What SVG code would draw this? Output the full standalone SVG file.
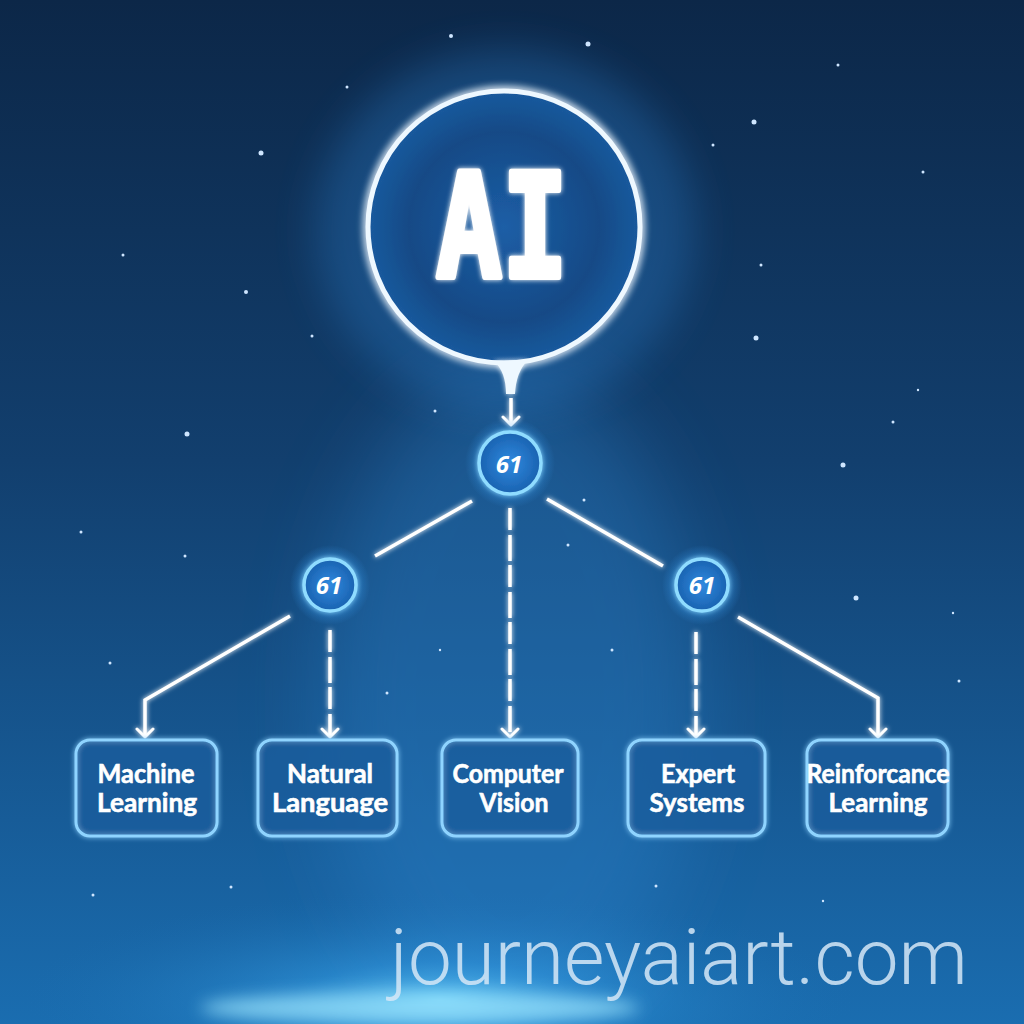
<svg xmlns="http://www.w3.org/2000/svg" width="1024" height="1024" viewBox="0 0 1024 1024">
  <defs>
    <linearGradient id="bg" x1="0" y1="0" x2="0" y2="1">
      <stop offset="0" stop-color="#0c2748"/>
      <stop offset="0.45" stop-color="#123f6e"/>
      <stop offset="0.8" stop-color="#175c98"/>
      <stop offset="1" stop-color="#1a6db0"/>
    </linearGradient>
    <radialGradient id="bottomGlow" cx="0.5" cy="0.5" r="0.5">
      <stop offset="0" stop-color="#6fd6ff" stop-opacity="0.8"/>
      <stop offset="0.35" stop-color="#3aa8f0" stop-opacity="0.4"/>
      <stop offset="1" stop-color="#1a6db0" stop-opacity="0"/>
    </radialGradient>
    <radialGradient id="halo" cx="0.5" cy="0.5" r="0.5">
      <stop offset="0.55" stop-color="#3a9cf0" stop-opacity="0.55"/>
      <stop offset="1" stop-color="#3a9cf0" stop-opacity="0"/>
    </radialGradient>
    <radialGradient id="aiFill" cx="0.5" cy="0.5" r="0.5">
      <stop offset="0" stop-color="#1c5ea6"/>
      <stop offset="0.7" stop-color="#144a86"/>
      <stop offset="1" stop-color="#1a5a9e"/>
    </radialGradient>
    <radialGradient id="hubFill" cx="0.5" cy="0.5" r="0.5">
      <stop offset="0" stop-color="#2f8ae0"/>
      <stop offset="1" stop-color="#1a62b0"/>
    </radialGradient>
    <filter id="glow" x="-50%" y="-50%" width="200%" height="200%">
      <feGaussianBlur in="SourceGraphic" stdDeviation="4" result="b"/>
      <feMerge><feMergeNode in="b"/><feMergeNode in="b"/><feMergeNode in="SourceGraphic"/></feMerge>
    </filter>
    <filter id="softglow" x="-20%" y="-20%" width="140%" height="140%">
      <feGaussianBlur in="SourceGraphic" stdDeviation="2.5" result="b"/>
      <feMerge><feMergeNode in="b"/><feMergeNode in="SourceGraphic"/></feMerge>
    </filter>
    <filter id="blur20" x="-50%" y="-50%" width="200%" height="200%">
      <feGaussianBlur stdDeviation="20"/>
    </filter>
    <filter id="blur40" x="-50%" y="-50%" width="200%" height="200%">
      <feGaussianBlur stdDeviation="40"/>
    </filter>
    <filter id="blur8" x="-50%" y="-50%" width="200%" height="200%">
      <feGaussianBlur stdDeviation="8"/>
    </filter>
    <marker id="arr" viewBox="0 0 20 20" refX="18" refY="10" markerWidth="20" markerHeight="20" markerUnits="userSpaceOnUse" orient="auto">
      <path d="M10 2 L18 10 L10 18" fill="none" stroke="#ffffff" stroke-width="3" stroke-linecap="round" stroke-linejoin="round"/>
    </marker>
    <style>
      .box { fill: #1b5c9c; fill-opacity: 0.55; stroke: #8fd4ff; stroke-width: 3; }
      .lbl { font-family: Lato, "Open Sans", "Liberation Sans", sans-serif; font-weight: 700; font-size: 26px; fill: #ffffff; stroke: #ffffff; stroke-width: 0.6; text-anchor: middle; }
      .hub { fill: url(#hubFill); stroke: #8fdcff; stroke-width: 3.5; }
      .num { font-family: "Open Sans", "Liberation Sans", sans-serif; font-weight: 700; font-style: italic; font-size: 24px; fill: #ffffff; text-anchor: middle; }
      .conn { fill: none; stroke: #ffffff; stroke-width: 3.5; stroke-linecap: butt; }
      .dash { stroke-dasharray: 22 5 26 4; }
      .star { fill: #cfe6ff; }
    </style>
  </defs>

  <!-- background -->
  <rect x="0" y="0" width="1024" height="1024" fill="url(#bg)"/>
  <ellipse cx="510" cy="700" rx="190" ry="330" fill="#2f86d0" opacity="0.35" filter="url(#blur40)"/>
  <ellipse cx="440" cy="1000" rx="420" ry="110" fill="url(#bottomGlow)"/>
  <ellipse cx="420" cy="1008" rx="220" ry="16" fill="#9fe8ff" opacity="0.7" filter="url(#blur8)"/>
  <ellipse cx="505" cy="230" rx="190" ry="180" fill="#2e86d8" opacity="0.3" filter="url(#blur20)"/>

  <!-- stars -->
  <g id="stars">
    <circle class="star" cx="451" cy="36" r="2"/>
    <circle class="star" cx="588" cy="44" r="2.5"/>
    <circle class="star" cx="838" cy="65" r="1.5"/>
    <circle class="star" cx="347" cy="87" r="1.5"/>
    <circle class="star" cx="754" cy="122" r="2.5"/>
    <circle class="star" cx="261" cy="153" r="2.5"/>
    <circle class="star" cx="713" cy="145" r="1.5"/>
    <circle class="star" cx="923" cy="172" r="1.5"/>
    <circle class="star" cx="123" cy="255" r="1.5"/>
    <circle class="star" cx="761" cy="265" r="1.5"/>
    <circle class="star" cx="246" cy="292" r="2"/>
    <circle class="star" cx="756" cy="338" r="2.5"/>
    <circle class="star" cx="312" cy="336" r="1.5"/>
    <circle class="star" cx="187" cy="434" r="2.5"/>
    <circle class="star" cx="435" cy="411" r="1.5"/>
    <circle class="star" cx="843" cy="465" r="2.5"/>
    <circle class="star" cx="893" cy="422" r="1.5"/>
    <circle class="star" cx="918" cy="390" r="1.2"/>
    <circle class="star" cx="81" cy="532" r="1.5"/>
    <circle class="star" cx="185" cy="556" r="1.5"/>
    <circle class="star" cx="568" cy="545" r="1.5"/>
    <circle class="star" cx="856" cy="598" r="2.5"/>
    <circle class="star" cx="612" cy="650" r="1.5"/>
    <circle class="star" cx="387" cy="693" r="1.5"/>
    <circle class="star" cx="110" cy="663" r="1.5"/>
    <circle class="star" cx="959" cy="681" r="1.5"/>
    <circle class="star" cx="93" cy="895" r="1.5"/>
    <circle class="star" cx="231" cy="887" r="1.5"/>
    <circle class="star" cx="656" cy="886" r="1.5"/>
    <circle class="star" cx="823" cy="901" r="1.2"/>
    <circle class="star" cx="953" cy="613" r="1.2"/>
    <circle class="star" cx="440" cy="650" r="1.2"/>
    <circle class="star" cx="584" cy="500" r="1.5"/>
  </g>

  <!-- connectors -->
  <g id="connectors" filter="url(#softglow)">
    <line class="conn" x1="511" y1="398" x2="511" y2="425" marker-end="url(#arr)"/>
    <line class="conn" x1="472" y1="501" x2="375" y2="556"/>
    <line class="conn" x1="547" y1="499" x2="663" y2="566"/>
    <line class="conn dash" x1="510" y1="508" x2="510" y2="737" marker-end="url(#arr)"/>
    <polyline class="conn" points="290,616 145,700 145,737" marker-end="url(#arr)"/>
    <line class="conn dash" x1="330" y1="630" x2="330" y2="737" marker-end="url(#arr)"/>
    <line class="conn dash" x1="696" y1="632" x2="696" y2="737" marker-end="url(#arr)"/>
    <polyline class="conn" points="738,617 878,698 878,737" marker-end="url(#arr)"/>
  </g>

  <!-- AI node -->
  <g id="node-ai">
    <circle cx="504" cy="227" r="136" fill="url(#aiFill)" stroke="#eef8ff" stroke-width="5" filter="url(#glow)"/>
    <path d="M494 361 Q506 372 506 394 L515 394 Q516 372 528 360 Z" fill="#eef8ff" filter="url(#softglow)"/>
    <text x="502" y="277" font-family="'DejaVu Sans Mono', 'Liberation Mono', monospace" font-weight="700" font-size="144" fill="#ffffff" stroke="#ffffff" stroke-width="6" stroke-linejoin="round" textLength="132" lengthAdjust="spacingAndGlyphs" text-anchor="middle" filter="url(#softglow)">AI</text>
  </g>

  <!-- hubs -->
  <g id="hub-center">
    <circle cx="510" cy="463" r="45" fill="url(#halo)"/>
    <circle class="hub" cx="510" cy="463" r="31" filter="url(#softglow)"/>
    <text class="num" x="509" y="473">61</text>
  </g>
  <g id="hub-left">
    <circle cx="330" cy="585" r="40" fill="url(#halo)"/>
    <circle class="hub" cx="330" cy="585" r="26" filter="url(#softglow)"/>
    <text class="num" x="329" y="594">61</text>
  </g>
  <g id="hub-right">
    <circle cx="702" cy="585" r="40" fill="url(#halo)"/>
    <circle class="hub" cx="702" cy="585" r="26" filter="url(#softglow)"/>
    <text class="num" x="702" y="594">61</text>
  </g>

  <!-- leaf boxes -->
  <g id="node-ml">
    <rect class="box" x="76" y="740" width="141" height="96" rx="14" filter="url(#softglow)"/>
    <text class="lbl" x="146" y="783" textLength="97" lengthAdjust="spacingAndGlyphs">Machine</text>
    <text class="lbl" x="147" y="812" textLength="100" lengthAdjust="spacingAndGlyphs">Learning</text>
  </g>
  <g id="node-nl">
    <rect class="box" x="258" y="740" width="139" height="96" rx="14" filter="url(#softglow)"/>
    <text class="lbl" x="330" y="783" textLength="86" lengthAdjust="spacingAndGlyphs">Natural</text>
    <text class="lbl" x="330" y="812" textLength="116" lengthAdjust="spacingAndGlyphs">Language</text>
  </g>
  <g id="node-cv">
    <rect class="box" x="442" y="740" width="136" height="96" rx="14" filter="url(#softglow)"/>
    <text class="lbl" x="508" y="783" textLength="111" lengthAdjust="spacingAndGlyphs">Computer</text>
    <text class="lbl" x="514" y="812" textLength="69" lengthAdjust="spacingAndGlyphs">Vision</text>
  </g>
  <g id="node-es">
    <rect class="box" x="628" y="740" width="137" height="96" rx="14" filter="url(#softglow)"/>
    <text class="lbl" x="698" y="783" textLength="74" lengthAdjust="spacingAndGlyphs">Expert</text>
    <text class="lbl" x="697" y="812" textLength="95" lengthAdjust="spacingAndGlyphs">Systems</text>
  </g>
  <g id="node-rl">
    <rect class="box" x="807" y="740" width="141" height="96" rx="14" filter="url(#softglow)"/>
    <text class="lbl" x="878" y="783" textLength="143" lengthAdjust="spacingAndGlyphs">Reinforcance</text>
    <text class="lbl" x="878" y="812" textLength="99" lengthAdjust="spacingAndGlyphs">Learning</text>
  </g>

  <!-- watermark -->
  <text x="390" y="984" font-family="Roboto, 'Liberation Sans', sans-serif" font-weight="300" font-size="78" fill="#d6e8f7" fill-opacity="0.85" textLength="578" lengthAdjust="spacingAndGlyphs">journeyaiart.com</text>
</svg>
